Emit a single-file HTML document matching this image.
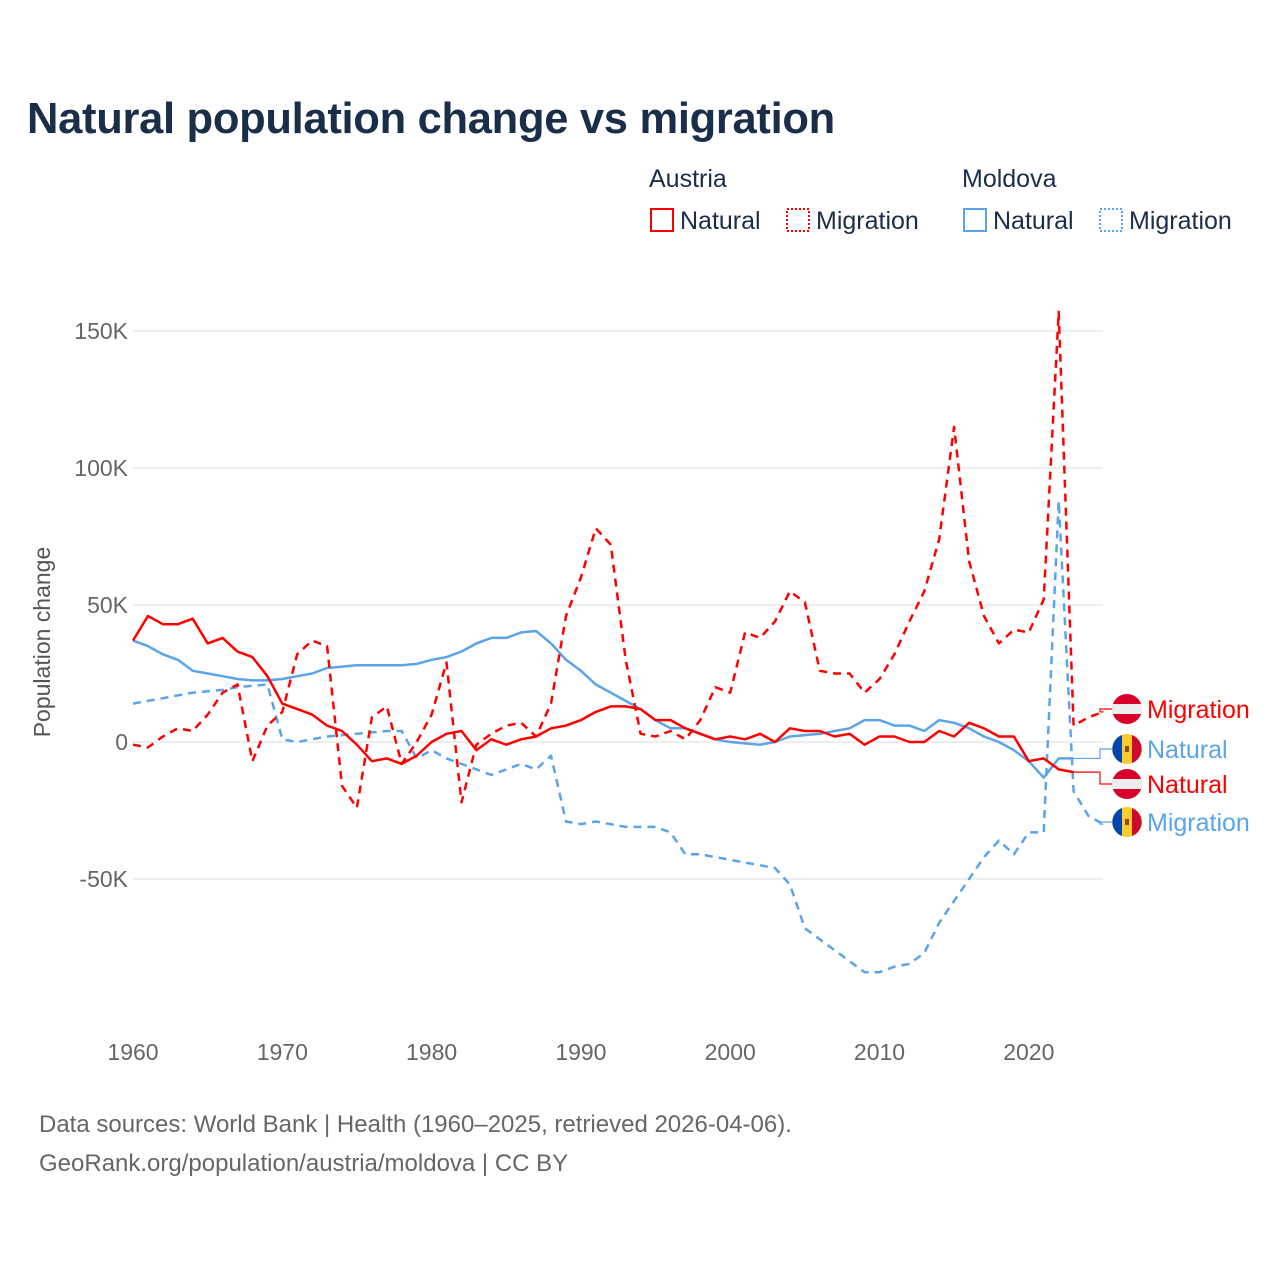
<!DOCTYPE html>
<html><head><meta charset="utf-8"><style>
body{margin:0;background:#fff;font-family:"Liberation Sans",sans-serif;}
svg text{font-family:"Liberation Sans",sans-serif;}
</style></head><body>
<svg id="chart" width="1280" height="1280" xmlns="http://www.w3.org/2000/svg">
<text x="27" y="133" font-size="43.5" font-weight="bold" fill="#1a2e4a" letter-spacing="-0.3">Natural population change vs migration</text>
<g font-size="25" fill="#1a2e4a">
<text x="649" y="187">Austria</text>
<text x="962" y="187">Moldova</text>
<rect x="651" y="209" width="22" height="22" fill="none" stroke="#f00" stroke-width="2"/>
<text x="680" y="229">Natural</text>
<rect x="787" y="209" width="22" height="22" fill="none" stroke="#f00" stroke-width="2" stroke-dasharray="2,2"/>
<text x="816" y="229">Migration</text>
<rect x="964" y="209" width="22" height="22" fill="none" stroke="#5ba4ea" stroke-width="2"/>
<text x="993" y="229">Natural</text>
<rect x="1100" y="209" width="22" height="22" fill="none" stroke="#5ba4ea" stroke-width="2" stroke-dasharray="2,2"/>
<text x="1129" y="229">Migration</text>
</g>
<text transform="translate(50,642) rotate(-90)" text-anchor="middle" font-size="23" fill="#555">Population change</text>
<g id="grid"></g><g id="series"></g><g id="labels"></g>
<text x="39" y="1132" font-size="24" fill="#666">Data sources: World Bank | Health (1960–2025, retrieved 2026-04-06).</text>
<text x="39" y="1171" font-size="24" fill="#666">GeoRank.org/population/austria/moldova | CC BY</text>
</svg>
<script>
const yTicks=[-50,0,50,100,150];
const yTickLabels=["-50K","0","50K","100K","150K"];
const xTicks=[1960,1970,1980,1990,2000,2010,2020];
const atNatural=[37,46,43,43,45,36,38,33,31,24,14,12,10,6,4,-1,-7,-6,-8,-5,0,3,4,-3,1,-1,1,2,5,6,8,11,13,13,12,8,8,5,3,1,2,1,3,0,5,4,4,2,3,-1,2,2,0,0,4,2,7,5,2,2,-7,-6,-10,-11];
const atMigration=[-1,-2,2,5,4,10,18,21,-7,6,11,32,37,35,-16,-24,9,13,-8,0,10,29,-22,-1,3,6,7,2,14,46,60,78,72,30,3,2,4,1,8,20,18,40,38,44,55,51,26,25,25,18,23,32,44,55,74,115,66,46,36,41,40,52,157,6,9,11];
const mdNatural=[37,35,32,30,26,25,24,23,22.5,22.5,23,24,25,27,27.5,28,28,28,28,28.5,30,31,33,36,38,38,40,40.5,36,30,26,21,18,15,12,8,5,5,3,1,0,-0.5,-1,0,2,2.5,3,4,5,8,8,6,6,4,8,7,5,2,0,-3,-7,-13,-6,-6];
const mdMigration=[14,15,16,17,18,18.5,19,20,20.5,21,1,0,1,2,2.5,3,3.5,4,4,-6,-3,-6,-8,-10,-12,-10,-8,-10,-5,-29,-30,-29,-30,-31,-31,-31,-33,-41,-41,-42,-43,-44,-45,-46,-52,-68,-72,-76,-80,-84,-84,-82,-81,-77,-66,-58,-50,-42,-36,-41,-33,-33,88,-18,-27,-30];
const NS="http://www.w3.org/2000/svg";
const X=yr=>133+(yr-1960)*14.93;
const Y=v=>742-v*2.74;
function mk(tag,attrs,parent){const e=document.createElementNS(NS,tag);for(const k in attrs)e.setAttribute(k,attrs[k]);parent.appendChild(e);return e;}
const grid=document.getElementById('grid');
yTicks.forEach((t,i)=>{
 const l=mk('line',{x1:133,x2:1103,y1:Y(t),y2:Y(t),stroke:'#e8e8e8','stroke-width':1.5},grid);
 
 
 const tx=mk('text',{x:128,y:Y(t)+8,'text-anchor':'end','font-size':23,fill:'#666'},grid);
 tx.textContent=yTickLabels[i];
 
 
});
xTicks.forEach(t=>{
 const tx=mk('text',{x:X(t),y:1060,'text-anchor':'middle','font-size':23,fill:'#666'},grid);
 tx.textContent=t;
 
 
});
const ser=document.getElementById('series');
function line(data,color,dash,name){
 const d=data.map((v,i)=>(i?'L':'M')+X(1960+i).toFixed(1)+','+Y(v).toFixed(1)).join('');
 const p=mk('path',{d:d,fill:'none',stroke:color,'stroke-width':2.5,'stroke-dasharray':dash,'stroke-linejoin':'round'},ser);
 
 
}
line(mdMigration,'#5ba4ea','8,6','moldova-migration-line');
line(mdNatural,'#5ba4ea','none','moldova-natural-line');
line(atMigration,'#f00','8,6','austria-migration-line');
line(atNatural,'#f00','none','austria-natural-line');
const lab=document.getElementById('labels');
function endLabel(data,color,ly,text,flag,name){
 const i=data.length-1;const ex=X(1960+i),ey=Y(data[i]);
 const c=mk('path',{d:`M${ex},${ey}L1100,${ey}L1100,${ly}L1112,${ly}`,fill:'none',stroke:color,'stroke-width':1.2},lab);
 
 
 const g=mk('g',{},lab);
 
 
 const cx=1127,r=15;
 if(flag==='at'){
  mk('circle',{cx:cx,cy:ly,r:r,fill:'#d8002a'},g);
  mk('rect',{x:cx-r,y:ly-5,width:2*r,height:10,fill:'#eee'},g);
 }else{
  mk('circle',{cx:cx,cy:ly,r:r,fill:'#f7cd2e'},g);
  mk('path',{d:`M${cx-5},${ly-14}A15,15 0 0 0 ${cx-5},${ly+14}Z`,fill:'#0046ae'},g);
  mk('path',{d:`M${cx+5},${ly-14}A15,15 0 0 1 ${cx+5},${ly+14}Z`,fill:'#cc092f'},g);
  mk('rect',{x:cx-2,y:ly-3,width:4,height:6,fill:'#8a4a2a'},g);
 }
 const t=mk('text',{x:1147,y:ly+9,'font-size':25,fill:color},lab);
 t.textContent=text;
 
 
}
endLabel(atMigration,'#f00',709,'Migration','at','austria-migration');
endLabel(mdNatural,'#5ba4ea',749,'Natural','md','moldova-natural');
endLabel(atNatural,'#f00',784,'Natural','at','austria-natural');
endLabel(mdMigration,'#5ba4ea',822,'Migration','md','moldova-migration');
</script>
</body></html>
